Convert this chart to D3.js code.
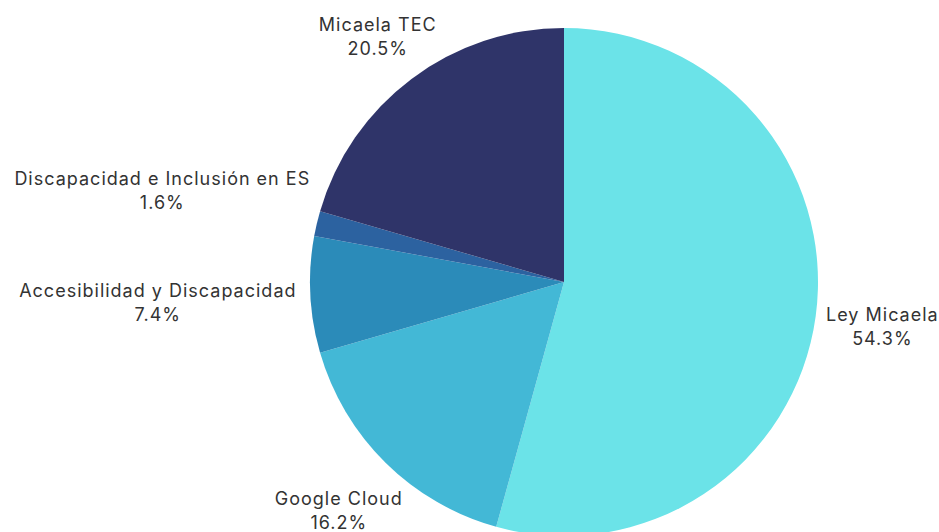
<!DOCTYPE html>
<html><head><meta charset="utf-8">
<script src="https://cdn.jsdelivr.net/npm/d3@7"></script>
<style>html,body{margin:0;padding:0;background:#fff;}svg{display:block;}</style>
</head><body>
<svg id="chart" width="939" height="532"></svg>
<script>
const categories = ["Ley Micaela", "Google Cloud", "Accesibilidad y Discapacidad", "Discapacidad e Inclusión en ES", "Micaela TEC"];
const values = [54.3, 16.2, 7.4, 1.6, 20.5];
const colors = ["#6be3e8", "#43b8d6", "#2b8bb9", "#2c62a0", "#2f3469"];
const percentLabels = ["54.3%", "16.2%", "7.4%", "1.6%", "20.5%"];

const W = 939, H = 532;
const cx = 564, cy = 282, r = 254;
const svg = d3.select("#chart");
const g = svg.append("g").attr("transform", `translate(${cx},${cy})`);

const data = categories.map((c, i) => ({ name: c, value: values[i], color: colors[i], pct: percentLabels[i] }));
const pie = d3.pie().value(d => d.value).sort(null);
const arc = d3.arc().innerRadius(0).outerRadius(r);
const arcs = pie(data);

g.selectAll("path").data(arcs).enter().append("path")
  .attr("d", arc).attr("fill", d => d.data.color);

// label layout: place block outward of the slice mid-angle edge point, then de-collide
const nudge = { "Ley Micaela": [-3, 7], "Google Cloud": [8, 22], "Accesibilidad y Discapacidad": [0, 7],
  "Discapacidad e Inclusión en ES": [3, -23], "Micaela TEC": [10, -10] };
const lineH = 24;
arcs.forEach(a => {
  const m = (a.startAngle + a.endAngle) / 2;
  const s = Math.sin(m), c = Math.cos(m);
  const ax = (r + 14) * s, ay = -(r + 14) * c;
  const t = g.append("text").attr("font-family", "Inter, 'Open Sans', sans-serif")
    .attr("font-size", 18).attr("letter-spacing", 1).attr("fill", "#333").attr("text-anchor", "middle");
  t.append("tspan").attr("x", 0).attr("dy", 0).text(a.data.name);
  t.append("tspan").attr("x", 0).attr("dy", lineH).text(a.data.pct);
  const bb = t.node().getBBox();
  const w = bb.width, h = 2 * lineH;
  const n = nudge[a.data.name] || [0, 0];
  const bx = ax + s * w / 2 + n[0];
  const by = ay - c * h / 2 + n[1];
  t.attr("transform", `translate(${bx},${by - lineH / 2 + 5})`);
});
</script>
</body></html>
